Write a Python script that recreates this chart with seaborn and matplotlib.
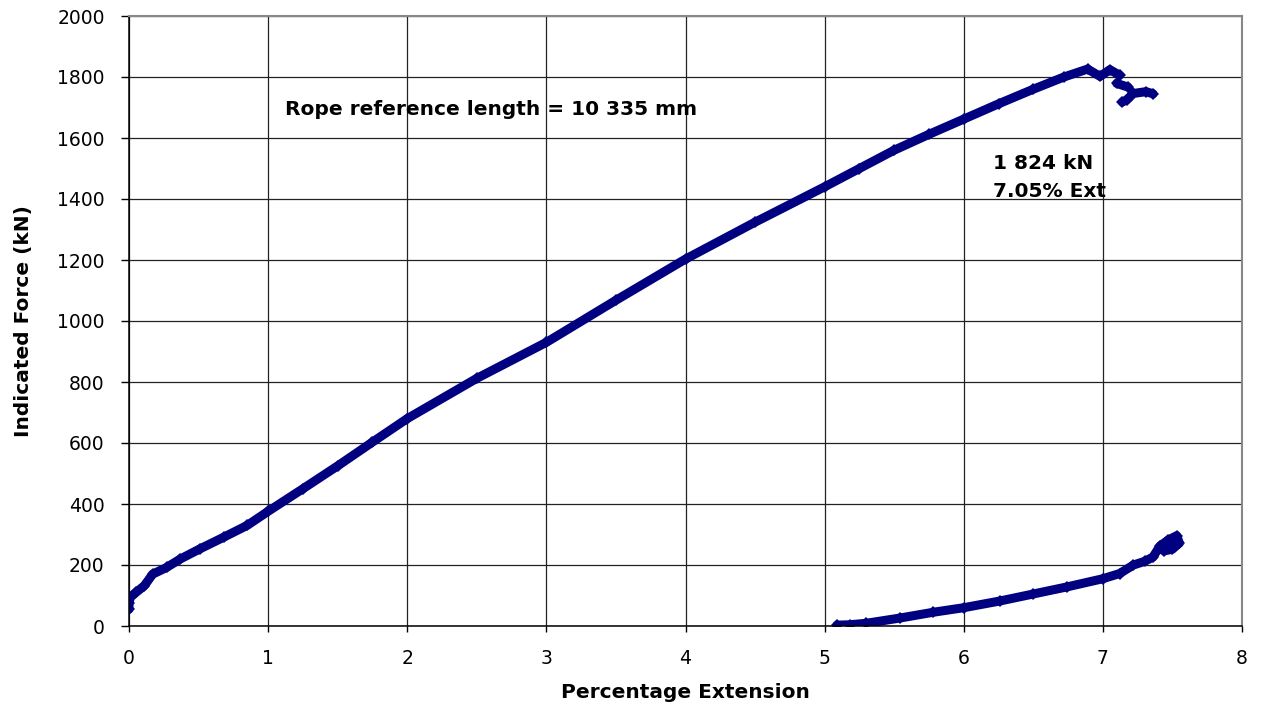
import matplotlib
matplotlib.use("Agg")
import matplotlib.pyplot as plt
import numpy as np
import pandas as pd
import seaborn as sns

# Main loading curve (percentage extension vs indicated force, kN)
loading_ext = [0.00, 0.00, 0.01, 0.05, 0.11, 0.17, 0.27, 0.37, 0.51, 0.68, 0.85,
               1.00, 1.25, 1.50, 1.75, 2.00, 2.50, 3.00, 3.50, 4.00, 4.50, 5.00,
               5.25, 5.50, 5.75, 6.00, 6.25, 6.50, 6.72, 6.89, 6.98, 7.05, 7.12]
loading_force = [55, 77, 94, 110, 132, 170, 192, 220, 253, 291, 330,
                 376, 450, 525, 603, 680, 812, 930, 1068, 1203, 1324, 1440,
                 1500, 1560, 1612, 1662, 1712, 1760, 1800, 1826, 1802, 1824, 1806]

# Readings after first wire breaks
break_a_ext = [7.10, 7.18]
break_a_force = [1779, 1767]
break_b_ext = [7.14, 7.17, 7.22, 7.31, 7.36]
break_b_force = [1718, 1725, 1746, 1752, 1745]

# Lower curve
lower_ext = [5.09, 5.18, 5.30, 5.54, 5.78, 6.00, 6.26, 6.50, 6.74, 7.00, 7.12,
             7.22, 7.30, 7.36, 7.41, 7.47, 7.53, 7.55, 7.50, 7.44, 7.48, 7.52]
lower_force = [3, 4, 9, 26, 45, 60, 82, 105, 128, 155, 172,
               200, 212, 226, 262, 282, 296, 272, 252, 246, 268, 284]

x_ticks = [0, 1, 2, 3, 4, 5, 6, 7, 8]
y_ticks = list(range(0, 2001, 200))

frames = []
for name, xs, ys in [("loading", loading_ext, loading_force),
                     ("break_a", break_a_ext, break_a_force),
                     ("break_b", break_b_ext, break_b_force),
                     ("lower", lower_ext, lower_force)]:
    frames.append(pd.DataFrame({"ext": xs, "force": ys, "segment": name}))
df = pd.concat(frames, ignore_index=True)

sns.set_style("ticks")
plt.rcParams["font.family"] = ["DejaVu Sans"]
plt.rcParams["text.color"] = "black"
plt.rcParams["axes.labelcolor"] = "black"
plt.rcParams["xtick.color"] = "black"
plt.rcParams["ytick.color"] = "black"

NAVY = "#000080"

fig = plt.figure(figsize=(12.61, 7.07), dpi=100)
ax = fig.add_axes([129 / 1261, 81 / 707, 1113 / 1261, 610 / 707])

sns.lineplot(data=df, x="ext", y="force", units="segment", estimator=None,
             sort=False, color=NAVY, lw=6.5, marker="D", markersize=6.5,
             markeredgewidth=0, markerfacecolor=NAVY, ax=ax, legend=False)

ax.set_xlim(0, 8)
ax.set_ylim(0, 2000)
ax.set_xticks(x_ticks)
ax.set_yticks(y_ticks)
ax.set_axisbelow(True)
ax.grid(True, color="#222222", lw=0.9)

for side in ("left", "bottom"):
    ax.spines[side].set_color("black")
    ax.spines[side].set_linewidth(1.1)
for side in ("top", "right"):
    ax.spines[side].set_visible(True)
    ax.spines[side].set_color("#888888")
    ax.spines[side].set_linewidth(1.5)

ax.tick_params(axis="x", direction="out", length=4.5, width=1, pad=12,
               labelsize=13.5, colors="black")
ax.tick_params(axis="y", direction="out", length=6, width=1, pad=11.5,
               labelsize=13.5, colors="black")

ax.set_xlabel("Percentage Extension", fontsize=14.5, fontweight="bold",
              color="black")
ax.set_ylabel("Indicated Force (kN)", fontsize=14.5, fontweight="bold",
              color="black")
ax.xaxis.set_label_coords(0.5, -0.093)
ax.yaxis.set_label_coords(-0.086, 0.5)

ax.text(1.121, 1675, "Rope reference length = 10 335 mm", fontsize=14.5,
        fontweight="bold", ha="left", va="baseline", color="black")
ax.text(6.208, 1497, "1 824 kN", fontsize=14.5, fontweight="bold",
        ha="left", va="baseline", color="black")
ax.text(6.208, 1408, "7.05% Ext", fontsize=14.5, fontweight="bold",
        ha="left", va="baseline", color="black")

fig.savefig("out.png", dpi=100, facecolor="white")
